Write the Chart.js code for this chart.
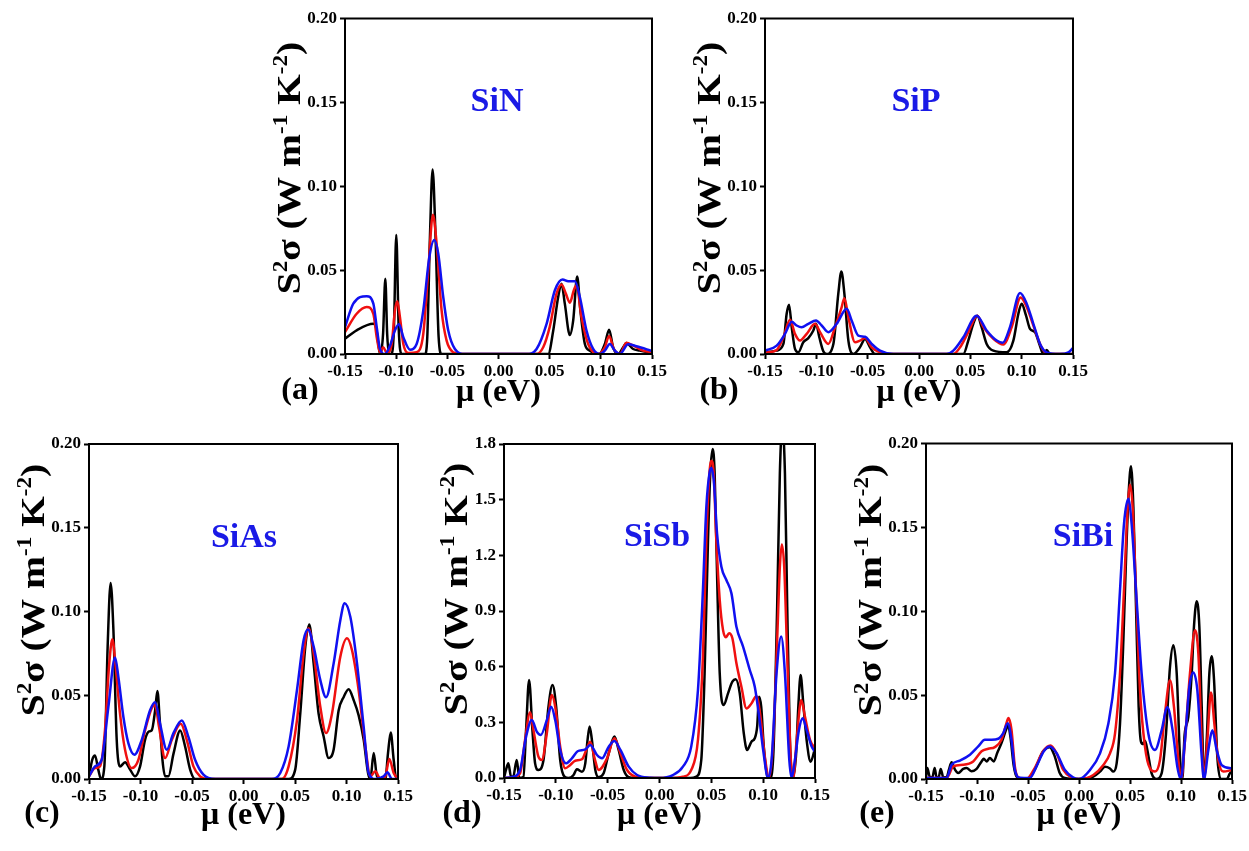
<!DOCTYPE html>
<html>
<head>
<meta charset="utf-8">
<script src="https://cdn.jsdelivr.net/npm/chart.js@4.4.0/dist/chart.umd.min.js"></script>
<style>
  body { margin: 0; background: #fff; }
  #wrap { position: relative; width: 1249px; height: 851px; overflow: hidden; }
  canvas { position: absolute; }
</style>
</head>
<body>
<div id="wrap">
  <canvas id="pa"></canvas>
  <canvas id="pb"></canvas>
  <canvas id="pc"></canvas>
  <canvas id="pd"></canvas>
  <canvas id="pe"></canvas>
</div>
<script>
// ---- axis ticks ----
const xTicks = [-0.15, -0.10, -0.05, 0.00, 0.05, 0.10, 0.15];
const xTickLabels = ["-0.15", "-0.10", "-0.05", "0.00", "0.05", "0.10", "0.15"];
const yTicks = [0, 0.05, 0.10, 0.15, 0.20];
const yTickLabels = ["0.00", "0.05", "0.10", "0.15", "0.20"];
const yTicksSb = [0, 0.3, 0.6, 0.9, 1.2, 1.5, 1.8];
const yTickLabelsSb = ["0.0", "0.3", "0.6", "0.9", "1.2", "1.5", "1.8"];

const materials = ["SiN", "SiP", "SiAs", "SiSb", "SiBi"];
const panelLetters = ["(a)", "(b)", "(c)", "(d)", "(e)"];

// ---- (a) SiN ----
const aBlackX = [-0.15, -0.1386, -0.1223, -0.1197, -0.1165, -0.1152, -0.1128, -0.1106, -0.1088, -0.107, -0.1045, -0.1022, -0.0999, -0.0975, -0.0947, -0.0719, -0.0696, -0.067, -0.0644, -0.0615, -0.0585, -0.0556, 0.0486, 0.0535, 0.0583, 0.0616, 0.0648, 0.0697, 0.073, 0.0769, 0.080, 0.0844, 0.0893, 0.0984, 0.1039, 0.1081, 0.112, 0.1169, 0.1218, 0.125, 0.1316, 0.138, 0.15];
const aBlackY = [0.0091, 0.0141, 0.018, 0.016, 0.002, 0, 0.012, 0.0448, 0.012, 0, 0, 0.015, 0.071, 0.015, 0, 0, 0.010, 0.0696, 0.110, 0.0696, 0.010, 0, 0, 0.014, 0.034, 0.0419, 0.030, 0.0113, 0.020, 0.0462, 0.026, 0.006, 0.002, 0, 0.006, 0.0145, 0.004, 0, 0.004, 0.0065, 0.003, 0.002, 0.0006];
const aRedX = [-0.15, -0.1386, -0.1288, -0.1223, -0.119, -0.1158, -0.1126, -0.109, -0.1044, -0.1012, -0.0989, -0.0963, -0.093, -0.0881, -0.080, -0.0735, -0.0686, -0.0641, -0.0605, -0.0556, -0.0507, -0.0442, -0.0377, 0.0372, 0.0437, 0.050, 0.0567, 0.0616, 0.0658, 0.0697, 0.0736, 0.0762, 0.0811, 0.0876, 0.0974, 0.1039, 0.1081, 0.1127, 0.1186, 0.125, 0.1316, 0.1413, 0.15];
const aRedY = [0.0131, 0.024, 0.028, 0.024, 0.010, 0.001, 0.004, 0.0006, 0.006, 0.026, 0.0315, 0.022, 0.006, 0.0006, 0.001, 0.012, 0.050, 0.083, 0.066, 0.026, 0.008, 0.001, 0, 0, 0.004, 0.016, 0.036, 0.0415, 0.036, 0.0306, 0.038, 0.041, 0.022, 0.006, 0, 0.004, 0.0107, 0.003, 0, 0.0067, 0.005, 0.002, 0.001];
const aBlueX = [-0.15, -0.1419, -0.1288, -0.1223, -0.119, -0.1158, -0.111, -0.106, -0.1012, -0.0973, -0.093, -0.0865, -0.080, -0.0735, -0.0676, -0.0628, -0.0589, -0.054, -0.0491, -0.0426, -0.0328, 0.0274, 0.0372, 0.047, 0.0551, 0.0626, 0.0681, 0.0746, 0.0795, 0.086, 0.0925, 0.099, 0.1039, 0.1088, 0.1137, 0.1186, 0.1267, 0.1348, 0.15];
const aBlueY = [0.016, 0.030, 0.0345, 0.030, 0.016, 0.003, 0, 0.005, 0.014, 0.0177, 0.010, 0.0026, 0.006, 0.026, 0.0577, 0.068, 0.060, 0.034, 0.014, 0.003, 0, 0, 0.003, 0.018, 0.038, 0.0444, 0.0433, 0.0433, 0.034, 0.014, 0.003, 0, 0.002, 0.006, 0.002, 0, 0.0058, 0.0046, 0.0018];

// ---- (b) SiP ----
const bBlackX = [-0.15, -0.1386, -0.1321, -0.1289, -0.1266, -0.124, -0.1208, -0.1175, -0.1127, -0.1078, -0.1029, -0.1003, -0.0971, -0.0932, -0.09, -0.0834, -0.0786, -0.0756, -0.0727, -0.0688, -0.064, -0.0575, -0.0526, -0.0477, -0.0429, 0.0432, 0.048, 0.0529, 0.0568, 0.061, 0.0659, 0.0724, 0.0854, 0.0919, 0.0968, 0.1, 0.1042, 0.1081, 0.113, 0.1172, 0.1211, 0.1244, 0.1276, 0.15];
const bBlackY = [0.001, 0.002, 0.006, 0.024, 0.0294, 0.016, 0.003, 0.001, 0.007, 0.0095, 0.014, 0.018, 0.010, 0.0016, 0, 0.006, 0.036, 0.0492, 0.036, 0.008, 0, 0.004, 0.0089, 0.004, 0, 0, 0.008, 0.018, 0.0228, 0.016, 0.006, 0.002, 0.001, 0.008, 0.024, 0.030, 0.023, 0.015, 0.013, 0.006, 0, 0.0024, 0, 0];
const bRedX = [-0.15, -0.1386, -0.1321, -0.1256, -0.1208, -0.1159, -0.1094, -0.1013, -0.0964, -0.0883, -0.0818, -0.0753, -0.0727, -0.0688, -0.0623, -0.0575, -0.0526, -0.0461, -0.038, -0.025, 0.0334, 0.04, 0.048, 0.0568, 0.0627, 0.0724, 0.0821, 0.0903, 0.099, 0.1049, 0.1114, 0.1179, 0.1227, 0.1276, 0.15];
const bRedY = [0.0008, 0.0024, 0.010, 0.0204, 0.012, 0.008, 0.012, 0.018, 0.013, 0.006, 0.016, 0.028, 0.0333, 0.022, 0.007, 0.008, 0.0095, 0.004, 0.001, 0, 0, 0.004, 0.013, 0.0228, 0.016, 0.009, 0.0056, 0.016, 0.0337, 0.028, 0.017, 0.006, 0.001, 0, 0];
const bBlueX = [-0.15, -0.1386, -0.1305, -0.124, -0.1192, -0.1143, -0.1078, -0.1003, -0.0948, -0.0883, -0.0802, -0.0704, -0.0656, -0.0591, -0.0526, -0.0461, -0.038, -0.025, 0.027, 0.0334, 0.0432, 0.0562, 0.0659, 0.0757, 0.0815, 0.0886, 0.0984, 0.1049, 0.1114, 0.1179, 0.1244, 0.137, 0.1455, 0.15];
const bBlueY = [0.002, 0.005, 0.012, 0.0192, 0.017, 0.0159, 0.018, 0.020, 0.017, 0.013, 0.018, 0.027, 0.020, 0.011, 0.0103, 0.006, 0.002, 0, 0, 0.002, 0.010, 0.0228, 0.014, 0.008, 0.0067, 0.016, 0.0363, 0.030, 0.018, 0.006, 0.001, 0, 0.001, 0.0036];

// ---- (c) SiAs ----
const cBlackX = [-0.15, -0.1468, -0.1442, -0.141, -0.1383, -0.1351, -0.1319, -0.129, -0.1263, -0.1231, -0.1199, -0.115, -0.1101, -0.1053, -0.1004, -0.0956, -0.0917, -0.0891, -0.0858, -0.0836, -0.0813, -0.0787, -0.0761, -0.0729, -0.068, -0.0615, -0.0567, -0.0518, -0.047, 0.0438, 0.0502, 0.0551, 0.06, 0.0639, 0.0681, 0.0729, 0.0778, 0.0826, 0.0875, 0.0924, 0.0973, 0.1021, 0.107, 0.1118, 0.1167, 0.1209, 0.1232, 0.1264, 0.1296, 0.1377, 0.1403, 0.1429, 0.1458, 0.1484, 0.15];
const cBlackY = [0.0016, 0.0115, 0.014, 0.0056, 0, 0.0075, 0.079, 0.117, 0.089, 0.0234, 0.0075, 0.010, 0.0056, 0.0016, 0.0075, 0.0234, 0.0284, 0.029, 0.041, 0.0526, 0.035, 0.0115, 0.0016, 0.0016, 0.015, 0.029, 0.0194, 0.0056, 0, 0, 0.0056, 0.039, 0.079, 0.0923, 0.069, 0.039, 0.0254, 0.0125, 0.0175, 0.041, 0.049, 0.0536, 0.047, 0.038, 0.0234, 0.0036, 0, 0.0155, 0.0016, 0, 0.0155, 0.0278, 0.0115, 0, 0];
const cRedX = [-0.15, -0.1442, -0.1393, -0.1345, -0.1306, -0.1273, -0.1241, -0.1199, -0.115, -0.1085, -0.102, -0.0956, -0.0891, -0.0858, -0.082, -0.0761, -0.0696, -0.0609, -0.0551, -0.0486, -0.0421, -0.034, 0.0373, 0.0438, 0.0519, 0.0584, 0.0632, 0.0681, 0.0746, 0.0801, 0.0859, 0.094, 0.1005, 0.1053, 0.1118, 0.1183, 0.1232, 0.128, 0.1329, 0.1377, 0.1416, 0.1458, 0.15];
const cRedY = [0.0016, 0.0065, 0.0075, 0.029, 0.067, 0.0835, 0.067, 0.039, 0.0175, 0.0065, 0.0115, 0.029, 0.0423, 0.0442, 0.031, 0.0125, 0.0234, 0.033, 0.0234, 0.0075, 0.0016, 0, 0, 0.0075, 0.035, 0.075, 0.090, 0.075, 0.043, 0.0274, 0.039, 0.073, 0.084, 0.077, 0.053, 0.0194, 0.0016, 0.0046, 0, 0.0016, 0.012, 0.0036, 0];
const cBlueX = [-0.15, -0.1442, -0.1377, -0.1312, -0.1247, -0.1215, -0.1166, -0.1118, -0.1059, -0.0988, -0.0907, -0.0858, -0.081, -0.0745, -0.068, -0.0599, -0.0534, -0.047, -0.0389, -0.0275, 0.0276, 0.0357, 0.0438, 0.0519, 0.0584, 0.0626, 0.0681, 0.0746, 0.0801, 0.0875, 0.094, 0.0982, 0.1037, 0.1102, 0.1167, 0.1215, 0.128, 0.1361, 0.1397, 0.1442, 0.15];
const cBlueY = [0.0016, 0.0075, 0.0115, 0.043, 0.0726, 0.061, 0.037, 0.0214, 0.0145, 0.0234, 0.041, 0.0458, 0.033, 0.0175, 0.0274, 0.035, 0.025, 0.0115, 0.0026, 0, 0, 0.0036, 0.0194, 0.053, 0.083, 0.0893, 0.079, 0.059, 0.0488, 0.069, 0.0948, 0.105, 0.0968, 0.069, 0.031, 0.0036, 0, 0.0016, 0.004, 0, 0];

// ---- (d) SiSb ----
const dBlackX = [-0.15, -0.1481, -0.1458, -0.1432, -0.141, -0.1377, -0.1352, -0.1313, -0.1287, -0.1258, -0.1226, -0.12, -0.1168, -0.1119, -0.1071, -0.1032, -0.0997, -0.0958, -0.0916, -0.0877, -0.0829, -0.0797, -0.0748, -0.0716, -0.0694, -0.0674, -0.0652, -0.0619, -0.0587, -0.0539, -0.049, -0.0435, -0.0394, -0.0345, -0.0297, -0.0248, 0.03, 0.0355, 0.0403, 0.0435, 0.0468, 0.049, 0.0513, 0.0532, 0.0555, 0.0581, 0.0619, 0.0661, 0.0703, 0.0735, 0.0774, 0.0813, 0.0845, 0.0887, 0.0919, 0.0942, 0.0961, 0.0981, 0.1006, 0.1042, 0.1065, 0.1097, 0.1135, 0.1161, 0.1184, 0.121, 0.1232, 0.1258, 0.1284, 0.1316, 0.1339, 0.1361, 0.1387, 0.1419, 0.1458, 0.15];
const dBlackY = [0, 0.043, 0.079, 0.007, 0.01, 0.097, 0, 0.005, 0.259, 0.528, 0.259, 0.079, 0.043, 0.097, 0.384, 0.501, 0.384, 0.097, 0.007, 0, 0.016, 0.047, 0.034, 0.079, 0.205, 0.277, 0.205, 0.043, 0.004, 0.025, 0.133, 0.223, 0.151, 0.043, 0.004, 0, 0, 0.007, 0.097, 0.564, 1.283, 1.642, 1.773, 1.642, 1.103, 0.564, 0.393, 0.456, 0.519, 0.532, 0.456, 0.241, 0.151, 0.196, 0.214, 0.277, 0.438, 0.384, 0.169, 0.007, 0, 0.115, 0.923, 1.642, 1.9, 1.642, 0.923, 0.205, 0, 0.115, 0.384, 0.555, 0.402, 0.205, 0.088, 0.16];
const dRedX = [-0.15, -0.141, -0.1345, -0.1297, -0.1248, -0.1216, -0.1168, -0.1135, -0.1087, -0.1039, -0.1006, -0.0958, -0.091, -0.0861, -0.0813, -0.0748, -0.07, -0.0668, -0.0626, -0.0587, -0.0506, -0.0435, -0.0377, -0.0313, -0.0216, -0.0119, 0.01, 0.0226, 0.0306, 0.0371, 0.0419, 0.0452, 0.0484, 0.05, 0.0523, 0.0548, 0.0581, 0.0613, 0.0639, 0.0671, 0.0703, 0.0742, 0.079, 0.0839, 0.0887, 0.0935, 0.0974, 0.1016, 0.1058, 0.1097, 0.1135, 0.1161, 0.118, 0.1203, 0.1232, 0.1265, 0.129, 0.1323, 0.1368, 0.1403, 0.1452, 0.15];
const dRedY = [0, 0.004, 0.025, 0.205, 0.354, 0.259, 0.115, 0.097, 0.241, 0.447, 0.384, 0.169, 0.052, 0.070, 0.093, 0.101, 0.160, 0.196, 0.106, 0.043, 0.106, 0.214, 0.133, 0.043, 0.004, 0, 0, 0.007, 0.043, 0.205, 0.654, 1.283, 1.66, 1.71, 1.642, 1.283, 0.959, 0.797, 0.758, 0.78, 0.753, 0.618, 0.492, 0.375, 0.402, 0.442, 0.331, 0.115, 0, 0.205, 0.744, 1.139, 1.259, 1.139, 0.654, 0.115, 0, 0.205, 0.42, 0.331, 0.205, 0.16];
const dBlueX = [-0.15, -0.141, -0.1345, -0.1287, -0.1232, -0.1184, -0.1145, -0.1087, -0.1045, -0.1006, -0.0958, -0.0903, -0.0845, -0.079, -0.0716, -0.0668, -0.0603, -0.0555, -0.049, -0.0435, -0.0377, -0.0297, -0.0216, -0.0087, 0, 0.0129, 0.0226, 0.0306, 0.0371, 0.0419, 0.0452, 0.0484, 0.05, 0.0523, 0.0555, 0.0597, 0.0645, 0.0694, 0.0742, 0.0806, 0.0871, 0.0919, 0.0961, 0.1, 0.1048, 0.1081, 0.1129, 0.1174, 0.121, 0.1252, 0.1274, 0.1306, 0.1345, 0.1381, 0.1419, 0.1468, 0.15];
const dBlueY = [0, 0.007, 0.043, 0.223, 0.312, 0.25, 0.232, 0.312, 0.384, 0.312, 0.151, 0.079, 0.106, 0.144, 0.154, 0.178, 0.124, 0.106, 0.169, 0.199, 0.151, 0.061, 0.016, 0.002, 0, 0.016, 0.061, 0.169, 0.474, 1.013, 1.462, 1.65, 1.67, 1.606, 1.319, 1.139, 1.067, 0.995, 0.815, 0.708, 0.582, 0.492, 0.331, 0.151, 0, 0.097, 0.564, 0.762, 0.564, 0.097, 0, 0.097, 0.259, 0.322, 0.259, 0.169, 0.142];

// ---- (e) SiBi ----
const eBlackX = [-0.15, -0.1487, -0.1461, -0.1438, -0.1415, -0.1396, -0.1376, -0.1356, -0.133, -0.1298, -0.1275, -0.1249, -0.1216, -0.1184, -0.1135, -0.1102, -0.1053, -0.1004, -0.0955, -0.0933, -0.0906, -0.0874, -0.0835, -0.0802, -0.076, -0.0717, -0.0695, -0.0672, -0.0639, -0.0607, -0.05, -0.0434, -0.0352, -0.0287, -0.0238, -0.0189, -0.014, 0, 0.014, 0.0206, 0.0255, 0.0304, 0.0337, 0.0369, 0.0402, 0.0435, 0.0467, 0.049, 0.051, 0.0533, 0.0559, 0.0585, 0.0608, 0.0631, 0.0647, 0.067, 0.0712, 0.0761, 0.081, 0.0853, 0.0892, 0.0925, 0.0958, 0.099, 0.1013, 0.1035, 0.1072, 0.1105, 0.1127, 0.1154, 0.118, 0.1203, 0.1225, 0.1252, 0.1278, 0.1301, 0.1324, 0.1356, 0.1389, 0.1448, 0.148, 0.15];
const eBlackY = [0.001, 0.0065, 0.001, 0.001, 0.0065, 0.001, 0.001, 0.006, 0.001, 0.001, 0.0056, 0.010, 0.0056, 0.0036, 0.006, 0.0065, 0.0046, 0.006, 0.0105, 0.012, 0.0105, 0.0125, 0.0105, 0.0155, 0.0214, 0.029, 0.032, 0.025, 0.0075, 0.001, 0, 0.0056, 0.0165, 0.019, 0.0135, 0.0036, 0.0006, 0, 0.0014, 0.0044, 0.0073, 0.0063, 0.0044, 0.0093, 0.033, 0.0827, 0.142, 0.174, 0.1865, 0.162, 0.1026, 0.043, 0.0222, 0.0208, 0.0228, 0.0173, 0.0034, 0, 0.0034, 0.027, 0.0669, 0.0798, 0.0629, 0.0133, 0, 0.026, 0.037, 0.0629, 0.0907, 0.106, 0.0907, 0.043, 0, 0.023, 0.0629, 0.0732, 0.059, 0.0133, 0, 0, 0.0034, 0.0044];
const eRedX = [-0.15, -0.1298, -0.1233, -0.1135, -0.1037, -0.0955, -0.089, -0.0825, -0.076, -0.0711, -0.0691, -0.0662, -0.0629, -0.0597, -0.0515, -0.0434, -0.0352, -0.028, -0.0221, -0.0156, -0.0075, 0, 0.014, 0.0239, 0.0304, 0.0353, 0.0402, 0.0441, 0.0477, 0.05, 0.0526, 0.0559, 0.0598, 0.0647, 0.0696, 0.0745, 0.0794, 0.0843, 0.0892, 0.0931, 0.0974, 0.1003, 0.1039, 0.1088, 0.1137, 0.117, 0.1203, 0.1225, 0.1258, 0.1294, 0.1327, 0.1366, 0.1415, 0.15];
const eRedY = [0.0006, 0.0006, 0.0075, 0.0085, 0.0105, 0.0165, 0.018, 0.019, 0.0234, 0.0333, 0.0363, 0.0294, 0.0075, 0.001, 0, 0.0065, 0.0165, 0.020, 0.0155, 0.0056, 0.001, 0, 0.0024, 0.0083, 0.0153, 0.027, 0.0629, 0.1125, 0.162, 0.1754, 0.162, 0.1125, 0.053, 0.0192, 0.0063, 0.0044, 0.0113, 0.039, 0.0589, 0.043, 0.0113, 0, 0.023, 0.0629, 0.0887, 0.0748, 0.023, 0, 0.023, 0.0516, 0.033, 0.0113, 0.0044, 0.0054];
const eBlueX = [-0.15, -0.1298, -0.1249, -0.1167, -0.1069, -0.0988, -0.0923, -0.0857, -0.0792, -0.0743, -0.0698, -0.0662, -0.0629, -0.058, -0.0482, -0.0417, -0.0345, -0.0287, -0.0221, -0.014, -0.0059, 0, 0.0108, 0.0206, 0.0288, 0.0353, 0.0402, 0.0441, 0.0484, 0.0516, 0.0559, 0.0614, 0.068, 0.0745, 0.081, 0.0866, 0.0918, 0.0964, 0.0997, 0.1039, 0.1082, 0.1121, 0.116, 0.1203, 0.1225, 0.1268, 0.1307, 0.135, 0.1399, 0.15];
const eBlueY = [0.0006, 0.0006, 0.0085, 0.011, 0.0145, 0.0194, 0.0234, 0.0234, 0.024, 0.0274, 0.0333, 0.0234, 0.0056, 0.0008, 0.0006, 0.0075, 0.0165, 0.0194, 0.0155, 0.0056, 0.001, 0, 0.0054, 0.0153, 0.0331, 0.0629, 0.1125, 0.152, 0.167, 0.152, 0.1125, 0.0629, 0.027, 0.0173, 0.029, 0.0427, 0.029, 0.0073, 0, 0.023, 0.055, 0.0635, 0.053, 0.0133, 0, 0.0173, 0.029, 0.0173, 0.0083, 0.0063];

const SERIF = '"Liberation Serif", "Times New Roman", serif';
const lineBlack = "#000000", lineRed = "#f01010", lineBlue = "#1010f0", textBlue = "#1a1ae6";

// page layout: canvas box and plot box for each panel (page pixels)
const panels = [
  { id: "pa", cv: [265, 0, 410, 420], plot: [345, 18.5, 652, 354], xs: [aBlackX, aRedX, aBlueX], ys: [aBlackY, aRedY, aBlueY], ymax: 0.2, yt: yTicks, ytl: yTickLabels, name: [497, 102], letter: [300, 391], ytitle: [289, 168], xtitleY: 393 },
  { id: "pb", cv: [685, 0, 410, 420], plot: [765, 18.5, 1073, 354], xs: [bBlackX, bRedX, bBlueX], ys: [bBlackY, bRedY, bBlueY], ymax: 0.2, yt: yTicks, ytl: yTickLabels, name: [916, 102], letter: [719, 391], ytitle: [709, 168], xtitleY: 393 },
  { id: "pc", cv: [0, 420, 420, 431], plot: [89, 444, 398, 779], xs: [cBlackX, cRedX, cBlueX], ys: [cBlackY, cRedY, cBlueY], ymax: 0.2, yt: yTicks, ytl: yTickLabels, name: [244, 538], letter: [42, 814], ytitle: [33, 590], xtitleY: 816 },
  { id: "pd", cv: [430, 420, 410, 431], plot: [504, 444, 815, 778], xs: [dBlackX, dRedX, dBlueX], ys: [dBlackY, dRedY, dBlueY], ymax: 1.8, yt: yTicksSb, ytl: yTickLabelsSb, name: [657, 537], letter: [462, 814], ytitle: [456, 589], xtitleY: 816 },
  { id: "pe", cv: [846, 420, 403, 431], plot: [926, 443.5, 1232, 779], xs: [eBlackX, eRedX, eBlueX], ys: [eBlackY, eRedY, eBlueY], ymax: 0.2, yt: yTicks, ytl: yTickLabels, name: [1083, 537], letter: [877, 814], ytitle: [870, 590], xtitleY: 816 },
];

// rotated y title with real superscripts, slightly stretched along the text like the original
function drawYTitle(ctx, cx, cy, size) {
  const parts = [["S", 0], ["2", 1], ["σ", 0], [" (W m", 0], ["-1", 1], [" K", 0], ["-2", 1], [")", 0]];
  const big = "bold " + size + "px " + SERIF;
  const small = "bold " + Math.round(size * 0.58) + "px " + SERIF;
  let total = 0;
  parts.forEach(([t, s]) => { ctx.font = s ? small : big; total += ctx.measureText(t).width; });
  ctx.save();
  ctx.translate(cx, cy);
  ctx.rotate(-Math.PI / 2);
  ctx.scale(1.16, 1);
  ctx.textAlign = "left";
  ctx.textBaseline = "alphabetic";
  let x = -total / 2;
  parts.forEach(([t, s]) => {
    ctx.font = s ? small : big;
    ctx.fillText(t, x, s ? size * 0.33 - size * 0.4 : size * 0.33);
    x += ctx.measureText(t).width;
  });
  ctx.restore();
}

const decor = {
  id: "decor",
  afterDraw(chart, args, o) {
    const { ctx, chartArea: a } = chart;
    const ox = o.cv[0], oy = o.cv[1];
    ctx.save();
    ctx.strokeStyle = "#000";
    ctx.lineWidth = 2;
    ctx.strokeRect(a.left, a.top, a.right - a.left, a.bottom - a.top);
    ctx.textAlign = "center";
    ctx.textBaseline = "middle";
    ctx.fillStyle = textBlue;
    ctx.font = "bold 34px " + SERIF;
    ctx.fillText(o.material, o.name[0] - ox, o.name[1] - oy);
    ctx.fillStyle = "#000";
    ctx.font = "bold 32px " + SERIF;
    ctx.fillText(o.letterText, o.letter[0] - ox, o.letter[1] - oy);
    ctx.fillText("μ (eV)", (a.left + a.right) / 2, o.xtitleY - oy);
    drawYTitle(ctx, o.ytitle[0] - ox, o.ytitle[1] - oy, 34);
    ctx.restore();
  }
};

panels.forEach((p, k) => {
  const cv = document.getElementById(p.id);
  const [cx, cy, cw, ch] = p.cv;
  const [pl, pt, pr, pb] = p.plot;
  cv.width = cw; cv.height = ch;
  cv.style.left = cx + "px"; cv.style.top = cy + "px";
  cv.style.width = cw + "px"; cv.style.height = ch + "px";

  const colors = [lineBlack, lineRed, lineBlue];
  const datasets = colors.map((c, i) => ({
    data: p.xs[i].map((x, j) => ({ x: x, y: p.ys[i][j] })),
    borderColor: c,
    borderWidth: 2.5,
    pointRadius: 0,
    fill: false,
    cubicInterpolationMode: "monotone",
    order: 3 - i,
  }));

  const tickFont = { family: SERIF, size: 17, weight: "bold" };
  new Chart(cv, {
    type: "line",
    data: { datasets: datasets },
    options: {
      responsive: false,
      animation: false,
      devicePixelRatio: 1,
      layout: { padding: { left: 0, top: pt - cy, right: cx + cw - pr, bottom: 0 } },
      plugins: {
        legend: { display: false },
        tooltip: { enabled: false },
        decor: { cv: p.cv, material: materials[k], letterText: panelLetters[k], name: p.name, letter: p.letter, ytitle: p.ytitle, xtitleY: p.xtitleY },
      },
      scales: {
        x: {
          type: "linear",
          min: -0.15,
          max: 0.15,
          afterBuildTicks: (s) => { s.ticks = xTicks.map(v => ({ value: v })); },
          afterFit: (s) => { s.height = cy + ch - pb; },
          ticks: { font: tickFont, color: "#000", padding: 2, maxRotation: 0, autoSkip: false,
                   callback: (v, i) => xTickLabels[i] },
          grid: { drawOnChartArea: false, drawTicks: true, tickLength: 5, tickColor: "#000", tickWidth: 2 },
          border: { display: true, color: "#000", width: 2 },
        },
        y: {
          min: 0,
          max: p.ymax,
          afterBuildTicks: (s) => { s.ticks = p.yt.map(v => ({ value: v })); },
          afterFit: (s) => { s.width = pl - cx; },
          ticks: { font: tickFont, color: "#000", padding: 3, autoSkip: false,
                   callback: (v, i) => p.ytl[i] },
          grid: { drawOnChartArea: false, drawTicks: true, tickLength: 5, tickColor: "#000", tickWidth: 2 },
          border: { display: true, color: "#000", width: 2 },
        },
      },
    },
    plugins: [decor],
  });
});
</script>
</body>
</html>
